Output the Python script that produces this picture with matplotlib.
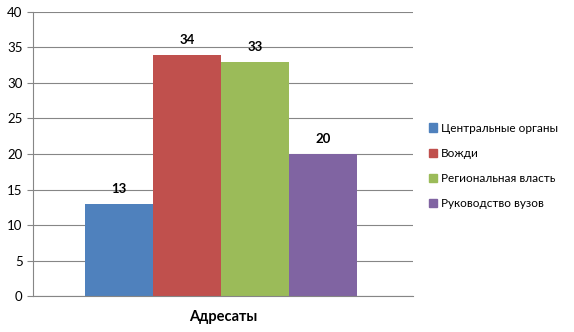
import matplotlib.pyplot as plt
from matplotlib.patches import Patch

plt.rcParams['font.family'] = ['Lato', 'DejaVu Sans']

category = "Адресаты"
series = ["Центральные органы", "Вожди", "Региональная власть", "Руководство вузов"]
values = [13, 34, 33, 20]
colors = ["#4f81bd", "#c0504d", "#9bbb59", "#8064a2"]

fig = plt.figure(figsize=(5.74, 3.32), dpi=100)
ax = fig.add_axes([0.0575, 0.1084, 0.662, 0.8555])

width = 0.179
offsets = [-0.274, -0.095, 0.0855, 0.264]
for off, v, c in zip(offsets, values, colors):
    ax.bar(off, v, width=width, color=c, zorder=2)
    ax.text(off, v + 1.2, str(v), ha='center', va='bottom', fontsize=9.5, fontweight='bold')

ax.set_xlim(-0.5, 0.5)
ax.set_ylim(0, 40)
ax.set_yticks(range(0, 41, 5))
ax.yaxis.grid(True, color='#868686', linewidth=0.8, zorder=0)
ax.set_xticks([])
ax.set_xlabel(category, fontsize=10.5, fontweight='bold', labelpad=10)
for s in ['top', 'right']:
    ax.spines[s].set_visible(False)
for s in ['left', 'bottom']:
    ax.spines[s].set_color('#868686')
ax.tick_params(axis='y', colors='#868686', labelcolor='black', labelsize=9.5, length=4)

handles = [Patch(color=c, label=s) for s, c in zip(series, colors)]
fig.legend(handles=handles, loc='center left', bbox_to_anchor=(0.729, 0.5),
           frameon=False, fontsize=8.5, handlelength=0.7, handleheight=0.7,
           handletextpad=0.3, labelspacing=1.2)

fig.savefig("out.png", dpi=100)
